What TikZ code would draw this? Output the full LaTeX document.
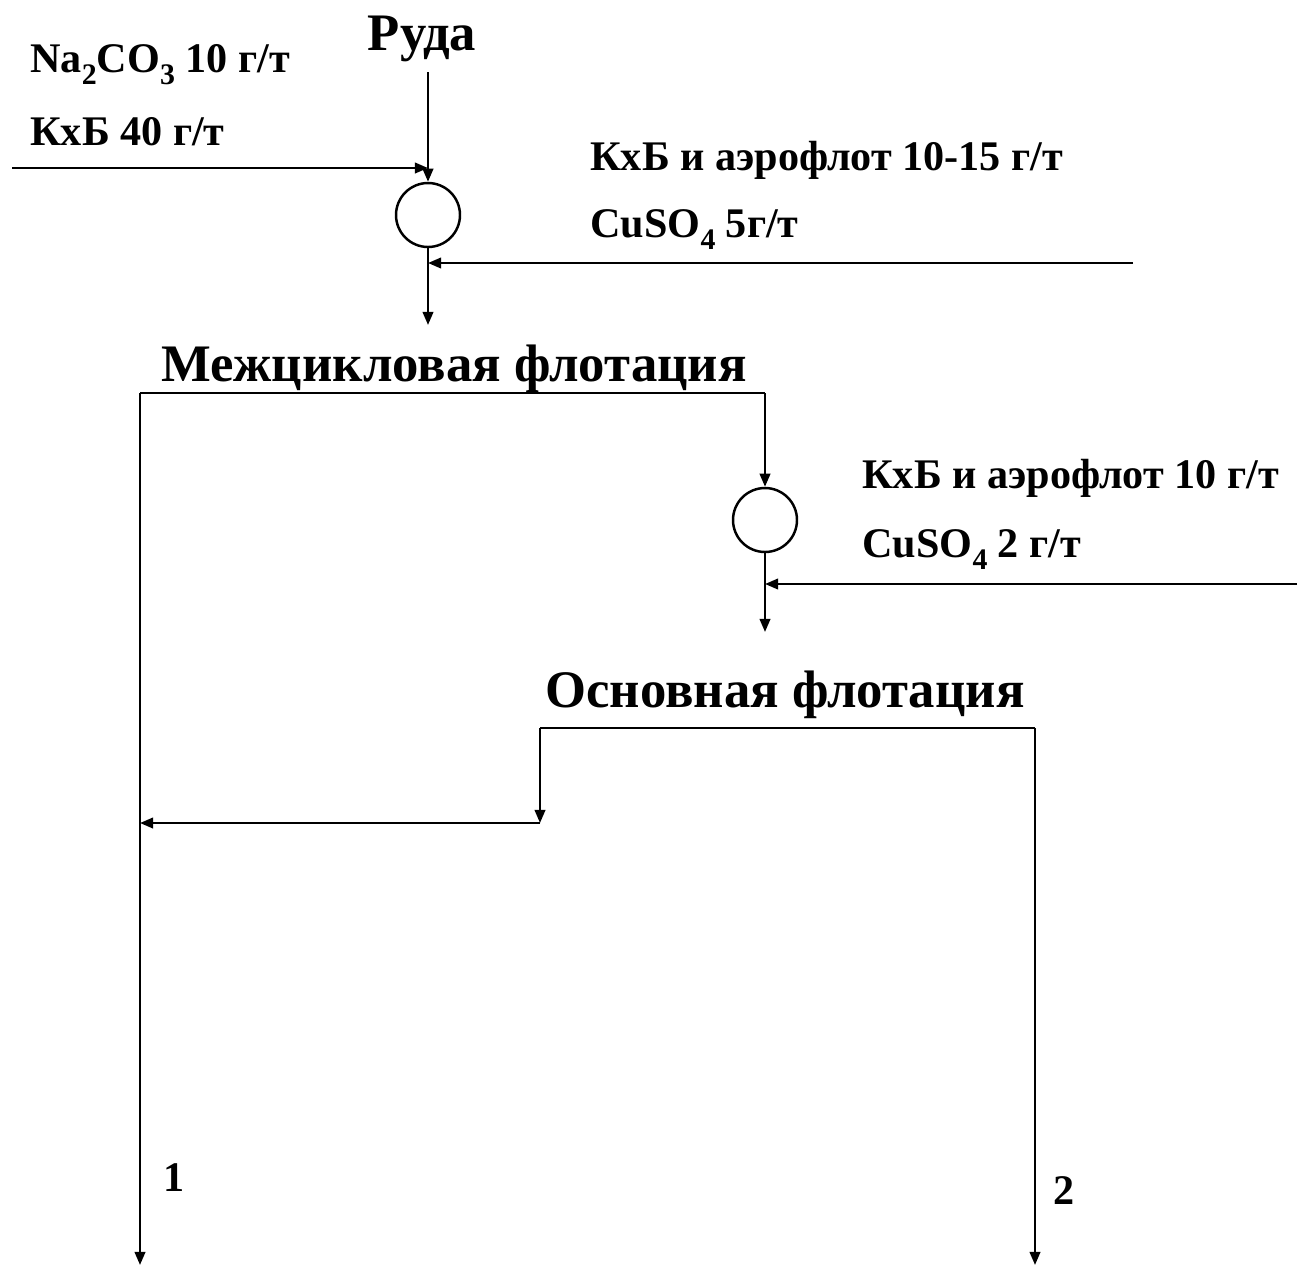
\documentclass[tikz,border=0pt]{standalone}
\usepackage{fontspec}
\setmainfont{Liberation Serif}
\usetikzlibrary{arrows.meta,positioning,calc}

\newcommand{\lowidx}[1]{\raisebox{-0.3em}{\fontsize{17}{17}\selectfont #1}}

\begin{document}
\begin{tikzpicture}[
  x=0.02cm, y=-0.02cm,
  % Node styles
  mixer/.style={draw, circle, line width=1.4pt, minimum size=1.28cm, inner sep=0pt},
  stage/.style={font=\fontsize{30}{36}\selectfont\bfseries, inner sep=0pt, anchor=base},
  reag/.style={font=\fontsize{24}{28}\selectfont\bfseries, inner sep=0pt, anchor=base west},
  % Arrow styles
  flow/.style={-{Triangle[length=7.5pt, width=6pt]}, line width=1.4pt, black},
  pipe/.style={line width=1.4pt, black},
]
\useasboundingbox (0,0) rectangle (1298,1272);

% === Ore and first mixer ===
\node[stage] (ore) at (422,50) {Руда};
\node[mixer] (mix1) at (428,215) {};
\coordinate (oreIn) at (428,72);
\coordinate (feed1) at (12,168);
\coordinate (feed2) at (1133,263);
\coordinate (mix1Out) at (428,325);

\node[reag] (na) at (30,72) {Na\lowidx{2}CO\lowidx{3} 10 г/т};
\node[reag] (kx1) at (30,145) {КхБ 40 г/т};
\node[reag] (kx2) at (590,170) {КхБ и аэрофлот 10-15 г/т};
\node[reag] (cu1) at (590,237) {CuSO\lowidx{4} 5г/т};

\draw[flow] (oreIn) -- (mix1.north);
\draw[flow] (feed1) -- (feed1 -| mix1);
\draw[flow] (feed2) -- (feed2 -| mix1);
\draw[flow] (mix1.south) -- (mix1Out);

% === Inter-cycle flotation ===
\node[stage] (inter) at (454,381) {Межцикловая флотация};
\node[mixer] (mix2) at (765,520) {};
\coordinate (interL) at (140,393);
\coordinate (interR) at (765,393);
\coordinate (conc1) at (140,1265);
\coordinate (feed3) at (1297,584);
\coordinate (mix2Out) at (765,632);

\node[reag] (kx3) at (862,488) {КхБ и аэрофлот 10 г/т};
\node[reag] (cu2) at (862,557) {CuSO\lowidx{4} 2 г/т};

\draw[pipe] (interL) -- (interR);
\draw[flow] (interR) -- (mix2.north);
\draw[flow] (interL) -- (conc1);
\draw[flow] (feed3) -- (feed3 -| mix2);
\draw[flow] (mix2.south) -- (mix2Out);

% === Main flotation ===
\node[stage] (main) at (785,707) {Основная флотация};
\coordinate (mainL) at (540,728);
\coordinate (mainR) at (1035,728);
\coordinate (midL) at (540,823);
\coordinate (conc2) at (1035,1265);

\draw[pipe] (mainL) -- (mainR);
\draw[flow] (mainL) -- (midL);
\draw[flow] (midL) -- (midL -| conc1);
\draw[flow] (mainR) -- (conc2);

% === Product numbers ===
\node[reag] (out1) at (163,1191) {1};
\node[reag] (out2) at (1053,1204) {2};

\end{tikzpicture}
\end{document}
